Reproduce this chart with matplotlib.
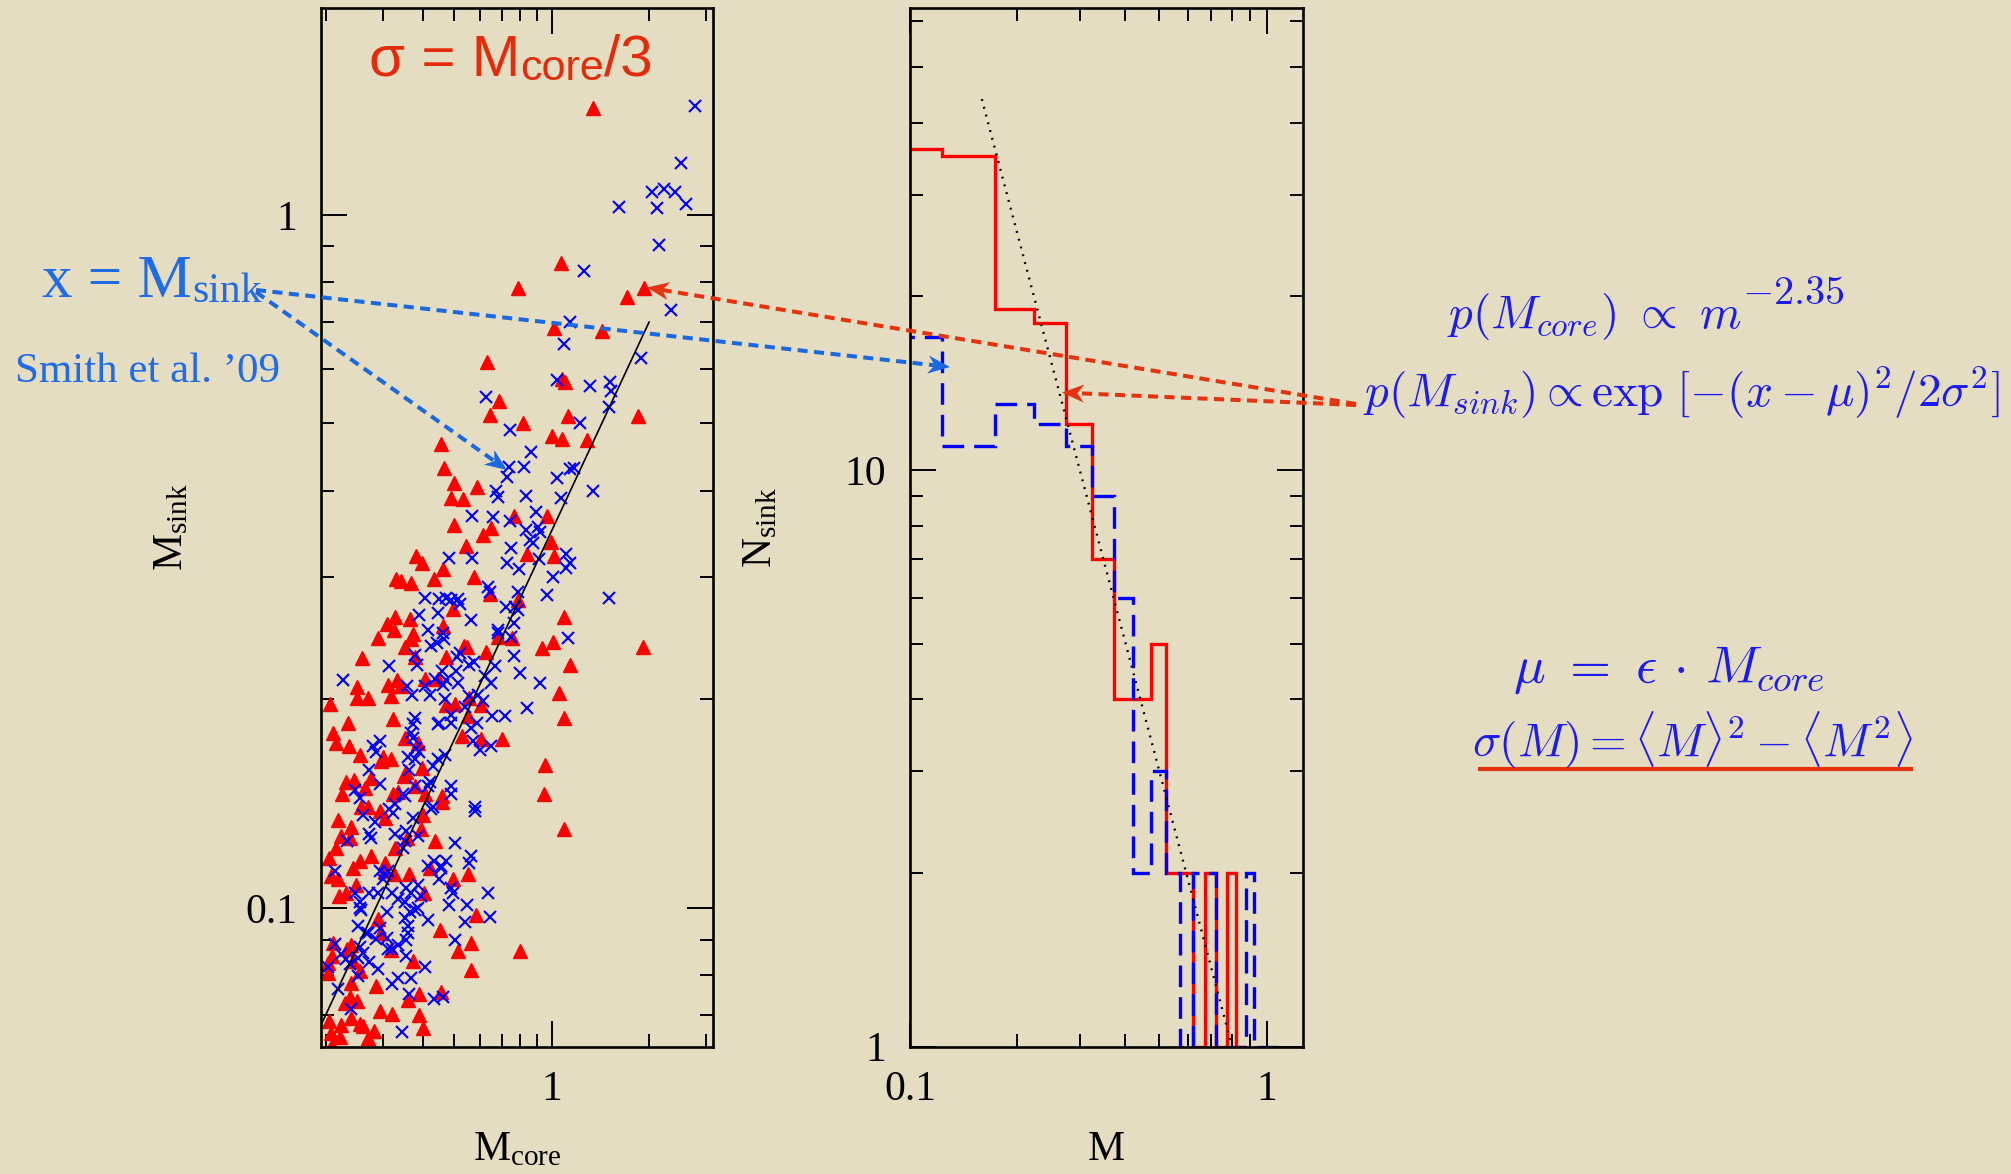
import matplotlib
matplotlib.use("Agg")
import matplotlib.pyplot as plt
from matplotlib.ticker import FuncFormatter, NullFormatter, LogLocator
from matplotlib.patches import Polygon
import numpy as np

plt.rcParams['font.family'] = ['Liberation Serif', 'DejaVu Serif']
plt.rcParams['mathtext.fontset'] = 'cm'
plt.rcParams['axes.linewidth'] = 1.9

# ---- scatter: sink mass vs core mass ----
core_blue = [2.78, 2.51, 2.04, 2.23, 2.41, 2.60, 1.61, 2.11, 2.15, 1.26, 2.33, 1.14, 1.09, 1.89,
             1.04, 1.31, 1.51, 1.52, 1.50, 0.625, 1.22, 0.743, 0.863, 0.74, 0.823, 0.726, 1.04,
             1.14, 1.17, 1.34, 0.671, 0.684, 0.833, 1.07, 0.566, 0.657, 0.743, 0.894, 0.833, 0.92,
             0.905, 0.857, 0.873, 0.75, 0.483, 0.566, 0.726, 0.79, 0.913, 1.11, 1.14, 1.11, 1.01,
             1.50,
             0.406, 0.45, 0.47, 0.49, 0.513, 0.52, 0.635, 0.643, 0.787, 0.97, 0.39, 0.445, 0.564,
             0.724, 0.768, 0.787, 0.765, 0.415, 0.462, 0.465, 0.424, 0.443, 0.682, 0.682, 0.747,
             1.12, 0.765, 0.377, 0.384, 0.314, 0.51, 0.52, 0.557, 0.575, 0.666, 0.80, 0.226, 0.458,
             0.436, 0.472, 0.506, 0.513, 0.62, 0.65, 0.918, 0.358, 0.37, 0.405, 0.42, 0.461, 0.467,
             0.557, 0.592, 0.613, 0.84, 0.377, 0.373, 0.368, 0.373, 0.445, 0.45, 0.489, 0.489,
             0.538, 0.589, 0.654, 0.716, 0.564, 0.571, 0.599, 0.65, 0.28, 0.287, 0.294, 0.381,
             0.39, 0.36, 0.377, 0.467, 0.445, 0.429, 0.273, 0.361, 0.294, 0.377, 0.42, 0.415,
             0.246, 0.255, 0.347, 0.353, 0.489, 0.489, 0.327, 0.429, 0.58,
             0.315, 0.323, 0.261, 0.285, 0.273, 0.277, 0.373, 0.424, 0.58, 0.329, 0.355, 0.353,
             0.386, 0.233, 0.347, 0.501, 0.416, 0.434, 0.455, 0.472, 0.455, 0.564, 0.557, 0.214,
             0.294, 0.305, 0.312, 0.301, 0.45, 0.489, 0.495, 0.635, 0.246, 0.255, 0.258, 0.255,
             0.273, 0.29, 0.322, 0.335, 0.355, 0.368, 0.386, 0.395, 0.351, 0.377, 0.386, 0.364,
             0.481, 0.548, 0.31, 0.415, 0.353, 0.36, 0.538, 0.643, 0.252, 0.267, 0.27, 0.294,
             0.36, 0.355, 0.287, 0.31, 0.504, 0.214, 0.312, 0.322, 0.335, 0.255, 0.224, 0.232,
             0.252, 0.261, 0.355, 0.238, 0.273, 0.29, 0.203, 0.406, 0.252, 0.322, 0.335, 0.368,
             0.218, 0.361, 0.434, 0.461, 0.24, 0.344]
sink_blue = [1.436, 1.189, 1.08, 1.09, 1.08, 1.037, 1.027, 1.023, 0.905, 0.83, 0.729, 0.70, 0.65, 0.622,
             0.577, 0.567, 0.574, 0.557, 0.528, 0.545, 0.50, 0.49, 0.455, 0.432, 0.433, 0.418, 0.417,
             0.43, 0.431, 0.40, 0.40, 0.392, 0.393, 0.39, 0.368, 0.366, 0.361, 0.373, 0.351, 0.349,
             0.354, 0.34, 0.336, 0.331, 0.32, 0.32, 0.314, 0.308, 0.319, 0.324, 0.315, 0.309, 0.30,
             0.28,
             0.280, 0.279, 0.28, 0.278, 0.279, 0.274, 0.29, 0.286, 0.286, 0.283, 0.265, 0.266, 0.26,
             0.272, 0.272, 0.269, 0.258, 0.252, 0.249, 0.244, 0.239, 0.241, 0.252, 0.249, 0.246,
             0.245, 0.231, 0.232, 0.224, 0.223, 0.230, 0.233, 0.224, 0.226, 0.223, 0.218, 0.213, 0.22,
             0.214, 0.213, 0.22, 0.211, 0.216, 0.211, 0.211, 0.209, 0.203, 0.209, 0.203, 0.21, 0.20,
             0.202, 0.203, 0.199, 0.194, 0.188, 0.184, 0.179, 0.176, 0.184, 0.185, 0.19, 0.185,
             0.195, 0.185, 0.189, 0.189, 0.182, 0.174, 0.169, 0.171, 0.171, 0.168, 0.174, 0.170,
             0.168, 0.165, 0.164, 0.166, 0.164, 0.16, 0.158, 0.158, 0.151, 0.15, 0.152, 0.15,
             0.148, 0.144, 0.146, 0.145, 0.15, 0.146, 0.141, 0.14, 0.14,
             0.139, 0.137, 0.136, 0.133, 0.128, 0.126, 0.135, 0.139, 0.138, 0.128, 0.129, 0.125,
             0.127, 0.125, 0.122, 0.124, 0.115, 0.117, 0.115, 0.117, 0.114, 0.119, 0.116, 0.113,
             0.113, 0.112, 0.113, 0.110, 0.110, 0.107, 0.105, 0.105, 0.105, 0.102, 0.0994, 0.10,
             0.105, 0.105, 0.105, 0.103, 0.107, 0.105, 0.108, 0.104, 0.102, 0.0994, 0.10, 0.0986,
             0.101, 0.101, 0.0986, 0.096, 0.0967, 0.0941, 0.0954, 0.097, 0.0942, 0.0919, 0.0919, 0.0934,
             0.092, 0.090, 0.0902, 0.0905, 0.090, 0.0888, 0.0873, 0.0873, 0.0883, 0.0878, 0.0859, 0.0844,
             0.0846, 0.0862, 0.0853, 0.083, 0.0835, 0.0817, 0.0822, 0.0822, 0.0798, 0.0777, 0.0791, 0.0791,
             0.0763, 0.0752, 0.0738, 0.0744, 0.0714, 0.0662]

core_red = [1.34, 1.07, 0.788, 1.71, 1.93, 1.02, 1.43, 0.63, 1.08, 1.10, 0.687, 0.644, 0.817, 1.12,
            1.85, 0.455, 1.0, 1.08, 1.29, 0.466, 0.499, 0.586, 0.49, 0.533, 0.764, 0.97, 0.50,
            0.649, 0.612, 0.543, 0.995, 0.84, 1.02, 0.46, 0.575, 1.92,
            0.38, 0.397, 0.33, 0.343, 0.368, 0.434, 0.643, 0.495, 0.787, 0.327, 0.366, 0.309,
            0.325, 0.461, 0.29, 0.373, 0.368, 0.351, 0.682, 0.753, 1.09, 1.01, 0.933, 0.259,
            0.379, 0.47, 0.534, 0.547, 0.628, 1.14, 0.251, 0.312, 0.333, 0.343, 0.406, 0.445,
            0.251, 0.27, 0.319, 0.207, 0.472, 0.504, 0.557, 0.606, 1.05, 0.235, 0.323, 0.553,
            1.09, 0.211, 0.216, 0.237, 0.255, 0.351, 0.386, 0.527, 0.603, 0.703, 0.301, 0.297,
            0.319, 0.397, 0.951, 0.232, 0.245, 0.264, 0.277, 0.349, 0.355, 0.225, 0.323, 0.335,
            0.377, 0.406, 0.458, 0.458, 0.944, 0.257, 0.27,
            0.294, 0.305, 0.219, 0.24, 0.401, 0.395, 0.223, 0.238, 0.215, 0.327, 0.357, 0.436,
            0.277, 0.255, 0.205, 0.305, 0.243, 0.305, 0.325, 0.361, 0.422, 0.208, 0.218, 0.249,
            0.495, 0.553, 1.09, 0.232, 0.22, 0.404, 0.29, 0.584, 0.297, 0.453, 0.211, 0.24,
            0.233, 0.319, 0.513, 0.564, 0.80, 0.209, 0.243, 0.373, 0.564, 0.203, 0.203, 0.255,
            0.24, 0.287, 0.455, 0.39, 0.36, 0.238, 0.25, 0.23, 0.294, 0.32, 0.389, 0.239, 0.223,
            0.205, 0.255, 0.261, 0.282, 0.27, 0.401, 0.208, 0.222, 0.21]
sink_red = [1.425, 0.851, 0.783, 0.76, 0.784, 0.686, 0.68, 0.614, 0.58, 0.574, 0.539, 0.515, 0.50, 0.513,
            0.513, 0.467, 0.479, 0.475, 0.473, 0.431, 0.41, 0.405, 0.39, 0.389, 0.368, 0.368, 0.357,
            0.353, 0.345, 0.333, 0.337, 0.324, 0.322, 0.308, 0.30, 0.238,
            0.322, 0.315, 0.298, 0.296, 0.294, 0.298, 0.284, 0.27, 0.278, 0.263, 0.261, 0.257,
            0.252, 0.255, 0.245, 0.248, 0.244, 0.238, 0.246, 0.245, 0.263, 0.242, 0.237, 0.229,
            0.23, 0.23, 0.239, 0.238, 0.234, 0.224, 0.208, 0.21, 0.213, 0.209, 0.214, 0.214,
            0.201, 0.201, 0.202, 0.197, 0.196, 0.197, 0.201, 0.196, 0.204, 0.185, 0.187, 0.189,
            0.188, 0.179, 0.173, 0.171, 0.166, 0.176, 0.173, 0.177, 0.175, 0.175, 0.165, 0.163,
            0.164, 0.159, 0.161, 0.152, 0.153, 0.149, 0.154, 0.155, 0.157, 0.146, 0.146, 0.147,
            0.150, 0.146, 0.145, 0.142, 0.146, 0.14, 0.14,
            0.138, 0.135, 0.134, 0.131, 0.136, 0.13, 0.127, 0.126, 0.122, 0.122, 0.126, 0.125,
            0.119, 0.117, 0.118, 0.116, 0.114, 0.113, 0.112, 0.112, 0.114, 0.111, 0.110, 0.108,
            0.110, 0.112, 0.13, 0.105, 0.104, 0.105, 0.0963, 0.0977, 0.092, 0.0929, 0.0891, 0.0885,
            0.0873, 0.087, 0.0868, 0.0891, 0.0868, 0.0853, 0.0838, 0.0838, 0.0814, 0.0832, 0.0805, 0.081,
            0.0779, 0.0772, 0.0757, 0.0752, 0.0737, 0.0744, 0.0735, 0.0728, 0.0709, 0.0703, 0.0701, 0.0694, 0.0677,
            0.0686, 0.0681, 0.0675, 0.0664, 0.0649, 0.0672, 0.066, 0.0651, 0.0634]

fit_core = [0.19, 2.0]
fit_sink = [0.0665, 0.70]

# ---- histograms of sink mass ----
hist_edges = [0.073, 0.123, 0.173, 0.223, 0.273, 0.323, 0.373, 0.423, 0.473, 0.523, 0.573,
              0.623, 0.673, 0.723, 0.773, 0.823, 0.873, 0.923, 0.973, 1.023, 1.073]
red_counts = [36, 35, 19, 18, 12, 7, 4, 4, 5, 2, 2, 1, 2, 1, 2, 1]
blue_counts = [17, 11, 13, 12, 11, 9, 6, 2, 3, 2, 1, 2, 2, 1, 1, 1, 2, 1, 1, 1]

guide_m = [0.159, 0.80]
guide_n = [44.0, 1.0]

W, H = 2011, 1174
bg = '#e4ddc2'
fig = plt.figure(figsize=(W / 100, H / 100), dpi=100, facecolor=bg)

ax1 = fig.add_axes([0.1594, 0.1086, 0.1952, 0.8849], facecolor=bg)
ax2 = fig.add_axes([0.4525, 0.1086, 0.1954, 0.8849], facecolor=bg)

ax1.plot(core_red, sink_red, ls='none', marker='^', ms=10, color='#ff0000', mec='#ff0000')
ax1.plot(core_blue, sink_blue, ls='none', marker='x', ms=8.5, mew=1.5, color='#0000ff')
ax1.plot(fit_core, fit_sink, color='black', lw=1.2)

ax2.stairs(red_counts, hist_edges[:len(red_counts) + 1], baseline=None, color='#ff0000', lw=2.4)
ax2.stairs(blue_counts, hist_edges, baseline=None, color='#0000ff', lw=2.4, ls=(0, (6.5, 3.0)))
ax2.plot(guide_m, guide_n, color='black', lw=1.7, ls=(0, (0.8, 2.6)))

ax1.set_xscale('log')
ax1.set_yscale('log')
ax1.set_xlim(0.193, 3.155)
ax1.set_ylim(0.0631, 1.99)
ax2.set_xscale('log')
ax2.set_yscale('log')
ax2.set_xlim(0.1, 1.264)
ax2.set_ylim(1, 63.4)

fmt = FuncFormatter(lambda v, p: '%g' % v)
for ax in (ax1, ax2):
    for axis in (ax.xaxis, ax.yaxis):
        axis.set_major_locator(LogLocator(base=10))
        axis.set_minor_locator(LogLocator(base=10, subs=np.arange(2, 10)))
        axis.set_major_formatter(fmt)
        axis.set_minor_formatter(NullFormatter())
    ax.tick_params(which='both', direction='in', top=True, right=True, width=1.4, labelsize=30)
    ax.tick_params(which='major', length=19, pad=17)
    ax.tick_params(which='minor', length=9.5)

ax1.set_xlabel(r'$\mathregular{M_{core}}$', fontsize=30)
ax1.set_ylabel(r'$\mathregular{M_{sink}}$', fontsize=30)
ax2.set_xlabel('M', fontsize=30)
ax2.set_ylabel(r'$\mathregular{N_{sink}}$', fontsize=30)
ax1.xaxis.set_label_coords(0.5, -0.081)
ax2.xaxis.set_label_coords(0.5, -0.081)
ax1.yaxis.set_label_coords(-0.33, 0.5)
ax2.yaxis.set_label_coords(-0.331, 0.5)

renderer = fig.canvas.get_renderer()


def text_run(x0, y0, pieces, color, family=None):
    x = x0
    for s, size, dy in pieces:
        t = fig.text(x / W, 1 - (y0 + dy) / H, s, fontsize=size, color=color,
                     ha='left', va='baseline')
        if family:
            t.set_family(family)
        x = t.get_window_extent(renderer).x1


text_run(369, 75, [('σ = M', 42, 0), ('core', 31, 5), ('/3', 42, 0)],
         '#e52b0c', ['Liberation Sans', 'DejaVu Sans'])
text_run(42, 297, [('x = M', 44, 0), ('sink', 30, 5)], '#206ce8', ['Liberation Serif'])
text_run(15, 382, [('Smith et al. ’09', 31, 0)], '#206ce8', ['Liberation Serif'])

eq_color = '#1c1cf0'
text_run(1447, 328, [(r'$p(M_{core})\ \propto\ m$', 34, 0), (r'$-2.35$', 29, -24)], eq_color)
text_run(1363, 407, [(r'$p(M_{sink}) \propto \exp\,[-(x-\mu)^2/2\sigma^2]$', 34, 0)], eq_color)
text_run(1513, 683, [(r'$\mu\ =\ \epsilon\,\cdot\,M_{core}$', 38, 0)], eq_color)
text_run(1472, 757, [(r'$\sigma(M) = \langle M\rangle^2 - \langle M^2\rangle$', 34, 0)], eq_color)

# overlay in pixel units for the arrows and underline
ov = fig.add_axes([0, 0, 1, 1], facecolor='none')
ov.set_xlim(0, W)
ov.set_ylim(H, 0)
ov.axis('off')
ov.plot([1478, 1913], [769, 769], color='#e5330f', lw=3, solid_capstyle='butt')


def dashed_arrow(start, tip, color, L=22, Wd=9):
    start = np.array(start, float)
    tip = np.array(tip, float)
    u = (tip - start) / np.linalg.norm(tip - start)
    n = np.array([-u[1], u[0]])
    notch = tip - 0.7 * L * u
    ov.plot([start[0], notch[0]], [start[1], notch[1]], color=color, lw=2.9,
            ls=(0, (2.5, 1.6)), solid_capstyle='butt')
    head = [tip, tip - L * u + Wd * n, notch, tip - L * u - Wd * n]
    ov.add_patch(Polygon(head, closed=True, color=color, lw=0))


blue_arrow = '#1c68e0'
red_arrow = '#e5330f'
dashed_arrow((256, 292), (507, 470), blue_arrow)
dashed_arrow((256, 290), (950, 367), blue_arrow)
dashed_arrow((1356, 404), (647, 287.5), red_arrow)
dashed_arrow((1356, 405), (1062, 392.6), red_arrow)

fig.savefig('out.png', dpi=100, facecolor=bg)
